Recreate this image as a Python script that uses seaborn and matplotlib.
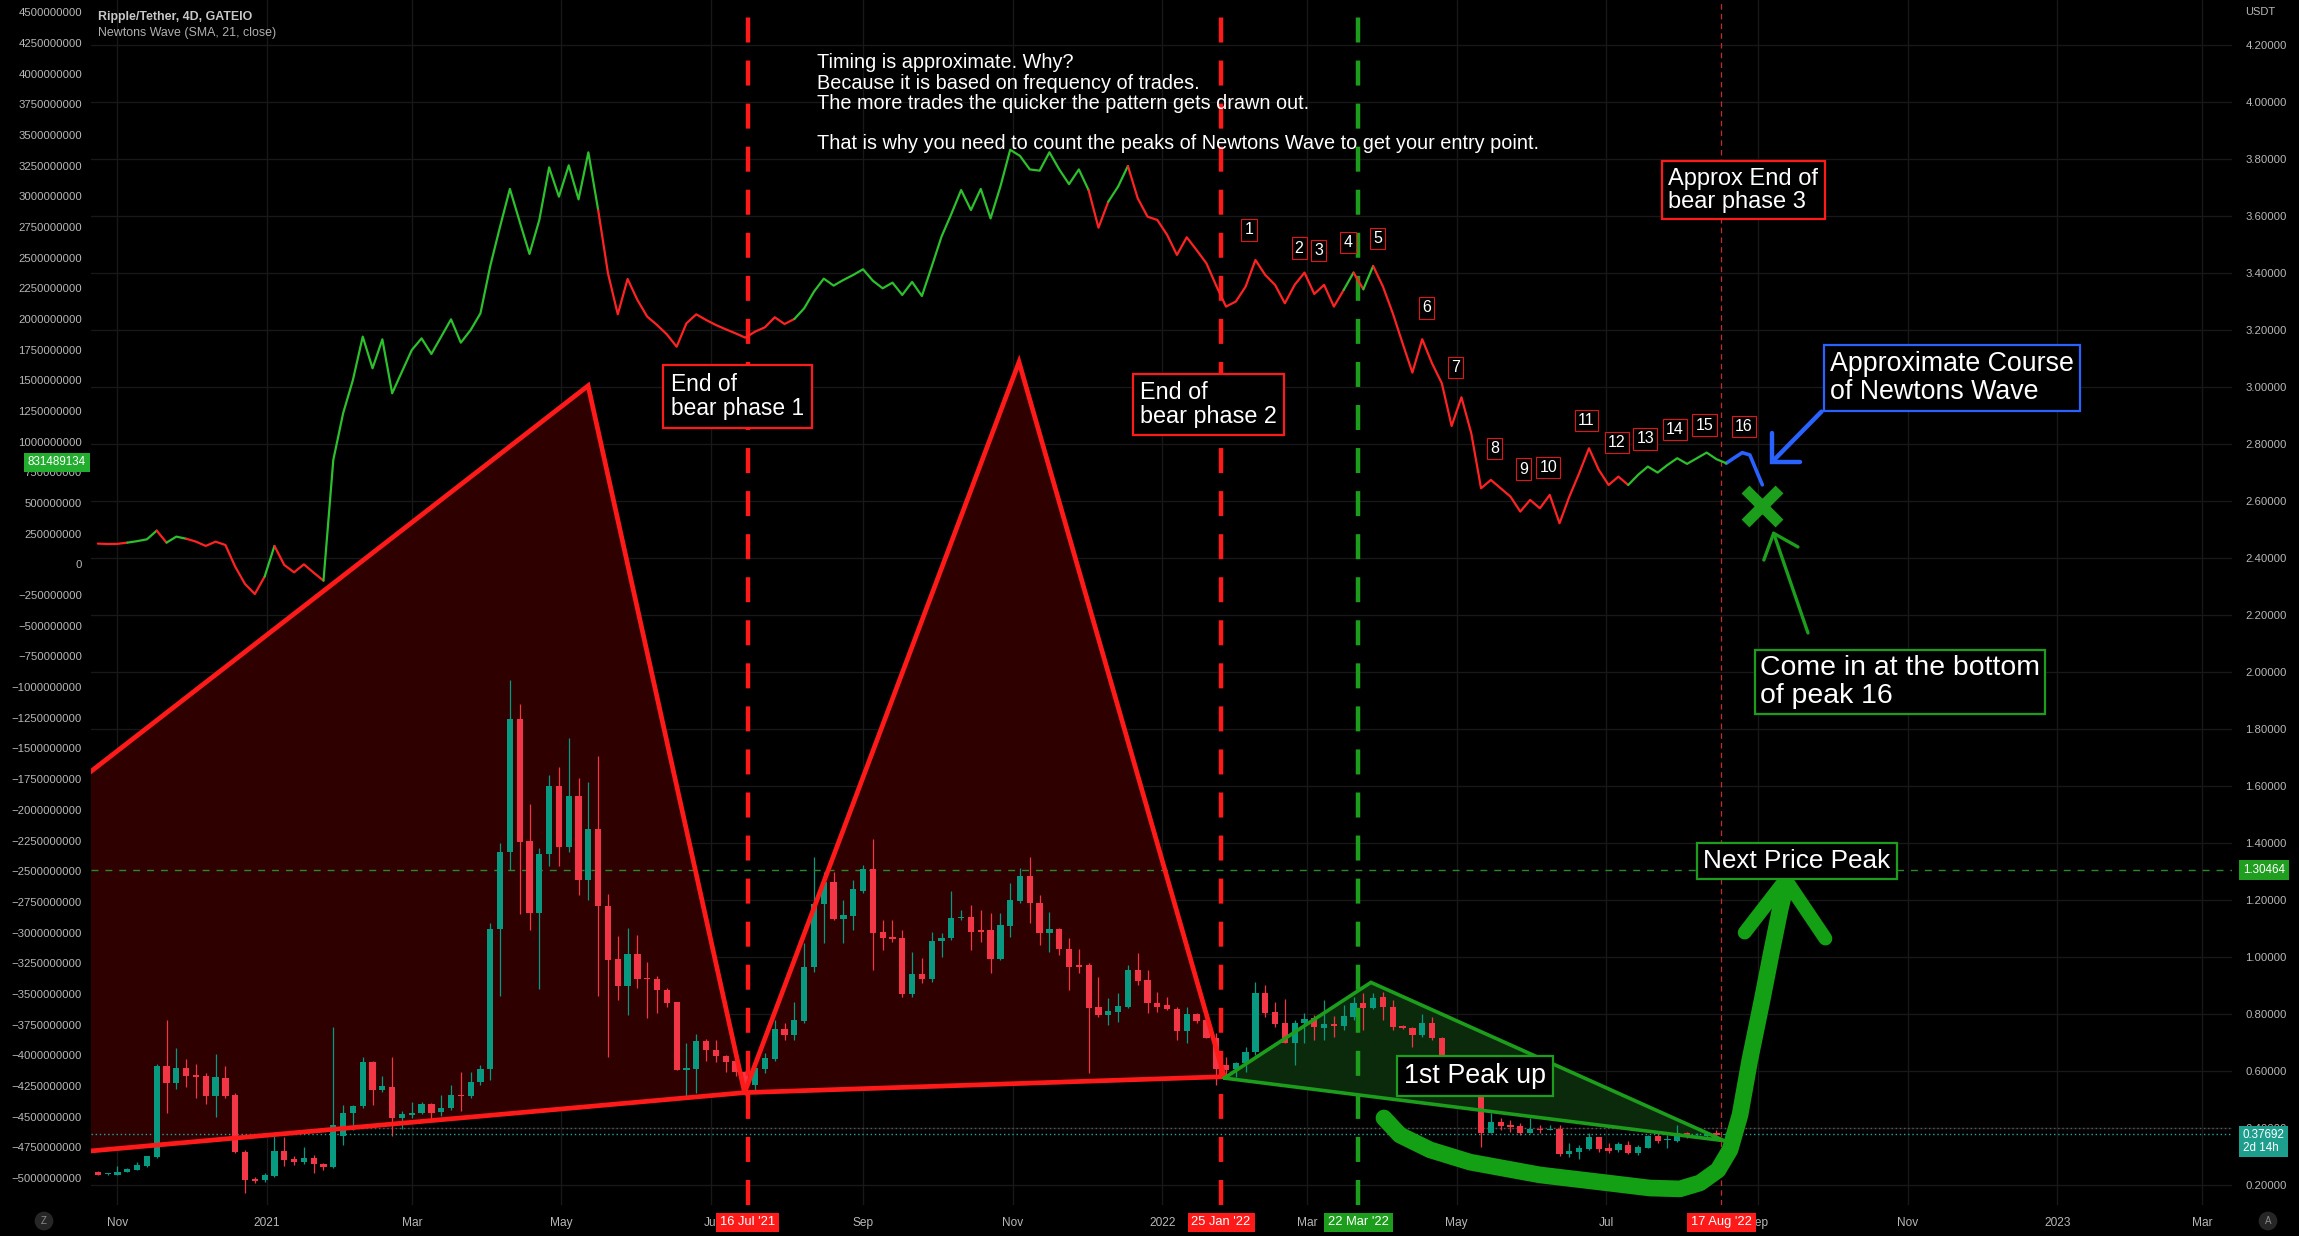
import numpy as np
import pandas as pd
import matplotlib
matplotlib.use("Agg")
import matplotlib.pyplot as plt
import matplotlib.dates as mdates
import matplotlib.transforms as mtransforms
from matplotlib.patches import Polygon
import seaborn as sns

# ------------------------------------------------------------------ data
first_bar = "2020-10-24"   # XRP/USDT 4D candles, GATEIO

opens = [0.246, 0.236, 0.234, 0.246, 0.252, 0.265, 0.296, 0.616, 0.557, 0.610,
         0.585, 0.581, 0.510, 0.575, 0.516, 0.315, 0.221, 0.215, 0.231, 0.318,
         0.290, 0.278, 0.294, 0.271, 0.261, 0.369, 0.451, 0.476, 0.629, 0.532,
         0.541, 0.434, 0.443, 0.453, 0.482, 0.456, 0.468, 0.516, 0.510, 0.562,
         0.607, 1.099, 1.369, 1.835, 1.406, 1.155, 1.362, 1.601, 1.387, 1.563,
         1.268, 1.450, 1.177, 0.992, 0.896, 1.011, 0.926, 0.923, 0.882, 0.842,
         0.604, 0.607, 0.704, 0.673, 0.650, 0.635, 0.597, 0.550, 0.605, 0.640,
         0.745, 0.725, 0.774, 0.965, 1.184, 1.264, 1.133, 1.143, 1.232, 1.307,
         1.087, 1.067, 1.065, 0.869, 0.939, 0.922, 1.055, 1.065, 1.135, 1.141,
         1.094, 1.094, 0.991, 1.108, 1.197, 1.284, 1.188, 1.085, 1.097, 1.027,
         0.971, 0.971, 0.822, 0.795, 0.807, 0.825, 0.953, 0.918, 0.836, 0.831,
         0.817, 0.740, 0.799, 0.778, 0.716, 0.620, 0.605, 0.626, 0.664, 0.872,
         0.805, 0.769, 0.698, 0.767, 0.784, 0.751, 0.764, 0.757, 0.790, 0.839,
         0.820, 0.858, 0.823, 0.757, 0.751, 0.725, 0.766, 0.716, 0.640, 0.600,
         0.610, 0.560, 0.382, 0.421, 0.409, 0.407, 0.382, 0.395, 0.392, 0.397,
         0.307, 0.316, 0.325, 0.366, 0.327, 0.321, 0.339, 0.312, 0.330, 0.372,
         0.356, 0.354, 0.380, 0.366, 0.372, 0.380, 0.374]
highs = [0.248, 0.242, 0.265, 0.258, 0.278, 0.302, 0.622, 0.779, 0.681, 0.641,
         0.625, 0.591, 0.660, 0.616, 0.522, 0.321, 0.228, 0.240, 0.372, 0.368,
         0.300, 0.331, 0.303, 0.275, 0.754, 0.478, 0.480, 0.648, 0.635, 0.582,
         0.648, 0.459, 0.491, 0.490, 0.488, 0.516, 0.550, 0.597, 0.597, 0.620,
         1.118, 1.400, 1.971, 1.889, 1.535, 1.381, 1.638, 1.666, 1.767, 1.629,
         1.613, 1.705, 1.221, 1.074, 1.101, 1.078, 0.980, 0.933, 0.892, 0.842,
         0.698, 0.729, 0.713, 0.708, 0.654, 0.640, 0.600, 0.620, 0.661, 0.778,
         0.766, 0.842, 1.047, 1.351, 1.299, 1.299, 1.199, 1.270, 1.322, 1.412,
         1.129, 1.129, 1.094, 1.018, 0.994, 1.088, 1.082, 1.232, 1.164, 1.182,
         1.164, 1.152, 1.152, 1.258, 1.310, 1.351, 1.217, 1.158, 1.100, 1.067,
         1.026, 0.977, 0.930, 0.854, 0.872, 0.971, 1.014, 0.953, 0.877, 0.860,
         0.825, 0.825, 0.804, 0.784, 0.731, 0.649, 0.632, 0.684, 0.913, 0.901,
         0.842, 0.850, 0.778, 0.801, 0.796, 0.848, 0.792, 0.831, 0.860, 0.872,
         0.872, 0.877, 0.848, 0.760, 0.755, 0.799, 0.790, 0.720, 0.650, 0.630,
         0.625, 0.570, 0.450, 0.433, 0.427, 0.415, 0.433, 0.409, 0.409, 0.409,
         0.345, 0.339, 0.380, 0.368, 0.345, 0.351, 0.354, 0.339, 0.374, 0.380,
         0.374, 0.409, 0.386, 0.380, 0.384, 0.392, 0.383]
lows = [0.232, 0.233, 0.232, 0.244, 0.250, 0.263, 0.294, 0.453, 0.537, 0.541,
        0.503, 0.484, 0.437, 0.503, 0.312, 0.171, 0.205, 0.210, 0.228, 0.265,
        0.268, 0.272, 0.240, 0.252, 0.258, 0.340, 0.390, 0.470, 0.478, 0.525,
        0.369, 0.397, 0.435, 0.448, 0.424, 0.441, 0.462, 0.459, 0.505, 0.550,
        0.566, 0.861, 1.303, 1.149, 1.093, 0.886, 1.318, 1.318, 1.369, 1.218,
        1.199, 0.861, 0.648, 0.848, 0.795, 0.892, 0.785, 0.804, 0.823, 0.604,
        0.512, 0.522, 0.635, 0.629, 0.597, 0.582, 0.515, 0.520, 0.591, 0.635,
        0.708, 0.708, 0.766, 0.948, 1.047, 1.129, 1.047, 1.094, 1.223, 0.953,
        1.024, 1.053, 0.860, 0.860, 0.907, 0.913, 1.000, 1.059, 1.129, 1.024,
        1.053, 0.942, 0.989, 1.071, 1.188, 1.117, 1.041, 1.018, 1.006, 0.883,
        0.942, 0.591, 0.790, 0.760, 0.772, 0.819, 0.901, 0.801, 0.807, 0.813,
        0.708, 0.696, 0.768, 0.714, 0.550, 0.579, 0.579, 0.597, 0.655, 0.790,
        0.755, 0.696, 0.620, 0.696, 0.708, 0.708, 0.719, 0.743, 0.778, 0.743,
        0.818, 0.778, 0.743, 0.748, 0.684, 0.720, 0.708, 0.630, 0.590, 0.585,
        0.550, 0.333, 0.380, 0.392, 0.386, 0.374, 0.380, 0.382, 0.390, 0.300,
        0.296, 0.289, 0.321, 0.316, 0.310, 0.316, 0.307, 0.304, 0.327, 0.347,
        0.327, 0.348, 0.362, 0.362, 0.368, 0.368, 0.370]
closes = [0.234, 0.238, 0.246, 0.255, 0.268, 0.299, 0.616, 0.557, 0.610, 0.582,
          0.579, 0.510, 0.579, 0.512, 0.315, 0.217, 0.212, 0.234, 0.318, 0.286,
          0.278, 0.294, 0.271, 0.261, 0.409, 0.451, 0.476, 0.629, 0.532, 0.545,
          0.434, 0.447, 0.453, 0.482, 0.453, 0.468, 0.516, 0.510, 0.562, 0.607,
          1.099, 1.369, 1.835, 1.404, 1.155, 1.362, 1.601, 1.387, 1.563, 1.268,
          1.450, 1.177, 0.989, 0.896, 1.011, 0.923, 0.921, 0.882, 0.838, 0.604,
          0.610, 0.704, 0.673, 0.650, 0.632, 0.595, 0.532, 0.608, 0.646, 0.745,
          0.725, 0.778, 0.965, 1.184, 1.264, 1.133, 1.147, 1.237, 1.307, 1.085,
          1.065, 1.064, 0.869, 0.939, 0.922, 1.055, 1.067, 1.137, 1.141, 1.088,
          1.088, 0.991, 1.111, 1.199, 1.284, 1.188, 1.085, 1.097, 1.027, 0.965,
          0.965, 0.819, 0.795, 0.811, 0.827, 0.953, 0.915, 0.836, 0.825, 0.817,
          0.740, 0.799, 0.774, 0.716, 0.605, 0.602, 0.628, 0.667, 0.872, 0.801,
          0.763, 0.698, 0.769, 0.780, 0.755, 0.764, 0.757, 0.792, 0.836, 0.820,
          0.854, 0.823, 0.755, 0.751, 0.725, 0.766, 0.716, 0.640, 0.600, 0.610,
          0.560, 0.382, 0.421, 0.407, 0.403, 0.380, 0.395, 0.392, 0.397, 0.307,
          0.318, 0.330, 0.366, 0.325, 0.319, 0.341, 0.312, 0.331, 0.372, 0.354,
          0.360, 0.380, 0.366, 0.372, 0.376, 0.374, 0.377]

# Newtons Wave (SMA 21, close), in millions, one value per candle
wave = [170, 167, 168, 178, 190, 205, 276, 178, 227, 210,
        186, 151, 186, 159, -18, -159, -241, -99, 151, -4,
        -64, 1, -67, -132, 852, 1232, 1504, 1857, 1599, 1835,
        1395, 1572, 1748, 1843, 1716, 1857, 1998, 1808, 1911, 2047,
        2433, 2754, 3061, 2794, 2531, 2808, 3237, 2998, 3253, 2976,
        3359, 2889, 2373, 2039, 2327, 2156, 2020, 1952, 1876, 1775,
        1966, 2039, 1993, 1952, 1917, 1884, 1849, 1898, 1933, 2015,
        1960, 2001, 2088, 2224, 2330, 2273, 2319, 2360, 2406, 2313,
        2251, 2297, 2197, 2303, 2188, 2428, 2672, 2857, 3052, 2889,
        3061, 2821, 3080, 3380, 3330, 3220, 3210, 3360, 3220, 3100,
        3220, 3050, 2745, 2957, 3080, 3248, 2985, 2835, 2808, 2686,
        2523, 2667, 2563, 2455, 2273, 2102, 2143, 2265, 2482, 2360,
        2279, 2129, 2279, 2379, 2205, 2279, 2102, 2238, 2379, 2243,
        2433, 2265, 2048, 1803, 1564, 1836, 1640, 1477, 1129, 1363,
        1070, 621, 689, 621, 553, 431, 526, 458, 567, 336,
        553, 743, 947, 771, 648, 716, 648, 730, 798, 749,
        811, 866, 820, 866, 912, 858, 825]
# colour of each wave segment (candle i -> i+1): 1 green, 0 red
wave_bull = ("0001110110" "0000000100" "0001111111" "1111111111" "1111111111"
             "1000000000" "0000000000" "0111111111" "1111111111" "1111111111"
             "1001100000" "0000000000" "0000000101" "0000000000" "0000000000"
             "0000001111" "111111")

price_ticks = np.round(np.arange(0.2, 4.21, 0.2), 2)
wave_ticks = np.arange(-5000, 4501, 250)
month_ticks = ["2020-11-01", "2021-01-01", "2021-03-01", "2021-05-01", "2021-07-01",
               "2021-09-01", "2021-11-01", "2022-01-01", "2022-03-01", "2022-05-01",
               "2022-07-01", "2022-09-01", "2022-11-01", "2023-01-01", "2023-03-01"]
month_labels = ["Nov", "2021", "Mar", "May", "Jul", "Sep", "Nov", "2022",
                "Mar", "May", "Jul", "Sep", "Nov", "2023", "Mar"]

event_dates = ["2021-07-16", "2022-01-25", "2022-03-22", "2022-08-17"]
event_labels = ["16 Jul '21", "25 Jan '22", "22 Mar '22", "17 Aug '22"]

last_price = 0.37692
last_wave = 831489134
target_price = 1.30464

# ------------------------------------------------------------ colours
UP, DOWN = "#089981", "#f23645"
WAVE_UP, WAVE_DN = "#2cc02c", "#ff2222"
RED, GREEN, BLUE = "#ff1a1a", "#1c9e1c", "#2962ff"
TXT = "#b8b8b8"

sns.set_theme(style="dark", rc={
    "figure.facecolor": "black", "axes.facecolor": "black",
    "axes.edgecolor": "black", "text.color": "white",
    "xtick.color": TXT, "ytick.color": TXT, "lines.scale_dashes": False,
})
plt.rcParams["font.family"] = ["Liberation Sans", "DejaVu Sans"]

fig = plt.figure(figsize=(22.99, 12.36), dpi=100)
ax = fig.add_axes([91 / 2299, 31 / 1236, 2141 / 2299, 1205 / 1236])
axw = ax.twinx()
ax.yaxis.tick_right()
axw.yaxis.tick_left()
axw.patch.set_visible(False)

t0 = mdates.date2num(pd.Timestamp(first_bar).to_pydatetime())


def at(day):
    return t0 + np.asarray(day, dtype=float)


def day_of(date):
    return mdates.date2num(pd.Timestamp(date).to_pydatetime())


dates = pd.date_range(first_bar, periods=len(closes), freq="4D")
x = mdates.date2num(dates.to_pydatetime())
o, h, l, c = (np.array(v) for v in (opens, highs, lows, closes))
col = np.where(c >= o, UP, DOWN)

# ------------------------------------------------------------ patterns
phase1 = [(-20, 1.536), (199.9, 3.005), (263.7, 0.523), (-20, 0.305)]
phase2 = [(263.7, 0.523), (375.6, 3.088), (459.3, 0.579)]
peak_up = [(459.3, 0.574), (519.1, 0.910), (663.2, 0.354)]


def shape(pts, edge, face, lw):
    xs = at([p[0] for p in pts])
    ys = np.array([p[1] for p in pts])
    ax.add_patch(Polygon(np.column_stack([xs, ys]), closed=True, fc=face,
                         ec="none", zorder=2))
    ax.plot(np.r_[xs, xs[0]], np.r_[ys, ys[0]], color=edge, lw=lw, zorder=5,
            solid_joinstyle="miter")


shape(phase1, RED, "#2e0000", 3.4)
shape(phase2, RED, "#2e0000", 3.4)
shape(peak_up, GREEN, "#0b2a0b", 2.6)

# ------------------------------------------------------------ candles
ax.vlines(x, l, h, colors=col, lw=0.9, zorder=3)
ax.bar(x, np.maximum(np.abs(c - o), 0.004), bottom=np.minimum(o, c), width=2.55,
       color=col, linewidth=0, zorder=4)

# price lines
ax.axhline(target_price, color="#2a8a2a", lw=1, dashes=(5, 5), zorder=3.5)
ax.axhline(0.4, color="#5a5a5a", lw=1, dashes=(1, 2), zorder=1)
ax.axhline(last_price, color="#26a69a", lw=1, dashes=(1, 2), zorder=3.5)

# vertical event lines
for d, colr, lw in zip(event_dates, [RED, RED, GREEN, "#c42b2b"], [3.2, 3.2, 3.2, 0.9]):
    dash = (18, 13) if lw > 2 else (4, 3)
    ax.axvline(day_of(d), color=colr, lw=lw, dashes=dash, zorder=6)

# ------------------------------------------------------------ Newtons Wave
wave_v = np.array(wave, dtype=float)
flags = [int(ch) for ch in wave_bull]
start = 0
for i in range(1, len(flags) + 1):
    if i == len(flags) or flags[i] != flags[start]:
        sns.lineplot(x=x[start:i + 1], y=wave_v[start:i + 1], ax=axw,
                     color=WAVE_UP if flags[start] else WAVE_DN, linewidth=1.6,
                     estimator=None, sort=False, legend=False)
        start = i

# ------------------------------------------------------------ hand drawings
blue_path = [(664, 2.733), (666.9, 2.750), (670.5, 2.770), (673.6, 2.762),
             (676.0, 2.712), (678.7, 2.657)]
ax.plot(at([p[0] for p in blue_path]), [p[1] for p in blue_path], color=BLUE,
        lw=2.6, solid_capstyle="round", solid_joinstyle="round", zorder=7)
ax.plot(at([702.8, 682.7]), [2.914, 2.738], color=BLUE, lw=3.2, zorder=7,
        solid_capstyle="round")
ax.plot(at([693.9, 682.7, 682.7]), [2.738, 2.738, 2.839], color=BLUE, lw=3.2,
        zorder=7, solid_capstyle="round", solid_joinstyle="miter")

ax.plot(at(678.5), 2.583, marker="x", ms=25, mew=8, color=GREEN, zorder=7)
ax.plot(at([697.3, 683.3]), [2.137, 2.487], color=GREEN, lw=2.4, zorder=7)
ax.plot(at([679.3, 683.3, 693.2]), [2.393, 2.487, 2.439], color=GREEN, lw=2.4,
        zorder=7)

curve = [(524.4, 0.434), (530.9, 0.374), (543.2, 0.322), (559.5, 0.279),
         (588.0, 0.234), (612.5, 0.209), (632.9, 0.188), (645.1, 0.185),
         (653.3, 0.206), (660.6, 0.251), (665.5, 0.322), (669.6, 0.445),
         (673.6, 0.638), (678.6, 0.848), (682.6, 1.024), (685.9, 1.164),
         (688.3, 1.252)]
ax.plot(at([p[0] for p in curve]), [p[1] for p in curve], color="#14a014", lw=12,
        solid_capstyle="round", solid_joinstyle="round", zorder=7)
ax.plot(at([671.5, 688.2, 704.4]), [1.085, 1.271, 1.064], color="#14a014", lw=10,
        solid_capstyle="round", solid_joinstyle="round", zorder=7)

# ------------------------------------------------------------ text notes
ax.text(at(293.1), 3.997,
        "Timing is approximate. Why?\n"
        "Because it is based on frequency of trades.\n"
        "The more trades the quicker the pattern gets drawn out.\n\n"
        "That is why you need to count the peaks of Newtons Wave to get your entry point.",
        ha="left", va="center", fontsize=14.3, color="white", linespacing=1.08,
        zorder=8)

boxes = [
    ("End of\nbear phase 1", 260.8, 2.967, RED, 16.4, 0.33),
    ("End of\nbear phase 2", 453.0, 2.939, RED, 16.8, 0.3),
    ("Approx End of\nbear phase 3", 671.0, 3.691, RED, 17.0, 0.26),
    ("Approximate Course\nof Newtons Wave", 755.9, 3.031, BLUE, 19.3, 0.22),
    ("Come in at the bottom\nof peak 16", 734.8, 1.965, GREEN, 20.4, 0.18),
    ("Next Price Peak", 692.7, 1.337, GREEN, 18.8, 0.24),
    ("1st Peak up", 561.7, 0.581, GREEN, 19.4, 0.26),
]
for txt, d, p, ec, fs, pad in boxes:
    ax.text(at(d), p, txt, ha="center", va="center", multialignment="left",
            fontsize=fs, color="white", linespacing=1.1, zorder=9,
            bbox=dict(boxstyle=f"square,pad={pad}", fc="black", ec=ec, lw=1.6))

peak_days = [469.4, 489.8, 497.8, 509.8, 521.8, 541.9, 553.5, 569.5, 581.4, 591.4,
             607.0, 619.4, 631.0, 643.1, 655.1, 671.1]
peak_prices = [3.552, 3.488, 3.479, 3.509, 3.521, 3.278, 3.070, 2.785, 2.712, 2.717,
               2.882, 2.806, 2.818, 2.852, 2.867, 2.861]
for n, (d, p) in enumerate(zip(peak_days, peak_prices), start=1):
    ax.text(at(d), p, str(n), ha="center", va="center", fontsize=11.5,
            color="white", zorder=9,
            bbox=dict(boxstyle="square,pad=0.2", fc="black", ec="#e01515", lw=0.8))

# ------------------------------------------------------------ axes styling
ax.set_xlim(at(-2.8), at(870.2))
ax.set_ylim(0.1284, 4.3594)
axw.set_ylim(-5221, 4601)

ax.set_yticks(price_ticks)
ax.set_yticklabels([f"{v:.5f}" for v in price_ticks])
axw.set_yticks(wave_ticks)
axw.set_yticklabels([("\u2212" if v < 0 else "") + str(abs(int(v)) * 1000000)
                     for v in wave_ticks])
ax.set_xticks([day_of(m) for m in month_ticks])
ax.set_xticklabels(month_labels)
ax.tick_params(axis="x", length=0, pad=8.5, labelsize=8.6, labelcolor=TXT)
ax.tick_params(axis="y", length=0, pad=9.5, labelsize=8.2, labelcolor=TXT)
axw.tick_params(axis="y", length=0, pad=6.5, labelsize=8.2, labelcolor=TXT)
ax.grid(True, color="#181818", lw=1)
axw.grid(False)
for a in (ax, axw):
    a.set_xlabel("")
    a.set_ylabel("")
    for s in a.spines.values():
        s.set_visible(False)

# axis price tags
yr = mtransforms.blended_transform_factory(ax.transAxes, ax.transData)
ax.text(1.0051, target_price, f"{target_price:.5f}", transform=yr, ha="left",
        va="center", fontsize=8.4, color="white", clip_on=False, zorder=10,
        bbox=dict(boxstyle="square,pad=0.35", fc="#1f9e1f", ec="none"))
ax.text(1.0051, 0.351, f"{last_price:.5f}\n2d 14h", transform=yr, ha="left",
        va="center", fontsize=8.4, color="white", linespacing=1.05, clip_on=False,
        zorder=10, bbox=dict(boxstyle="square,pad=0.3", fc="#1e9e8c", ec="none"))
yl = mtransforms.blended_transform_factory(axw.transAxes, axw.transData)
axw.text(-0.0023, last_wave / 1e6, str(last_wave), transform=yl, ha="right",
         va="center", fontsize=8.4, color="white", clip_on=False, zorder=10,
         bbox=dict(boxstyle="square,pad=0.3", fc="#22ad2f", ec="none"))

xb = mtransforms.blended_transform_factory(ax.transData, ax.transAxes)
for d, lab, fc in zip(event_dates, event_labels, [RED, RED, "#1c9e1c", RED]):
    ax.text(day_of(d), -0.0145, lab, transform=xb, ha="center", va="center",
            fontsize=9.3, color="white", clip_on=False, zorder=10,
            bbox=dict(boxstyle="square,pad=0.3", fc=fc, ec="none"))

fig.text(98 / 2299, 1 - 17 / 1236, "Ripple/Tether, 4D, GATEIO", fontsize=8.9,
         fontweight="bold", color="#c8c8c8", va="center")
fig.text(98 / 2299, 1 - 33 / 1236, "Newtons Wave (SMA, 21, close)", fontsize=8.9,
         color="#b0b0b0", va="center")
fig.text(2245 / 2299, 1 - 12 / 1236, "USDT", fontsize=8, color=TXT, va="center")
for px_, letter in ((44, "Z"), (2268, "A")):
    fig.text(px_ / 2299, 1 - 1221 / 1236, letter, ha="center", va="center",
             fontsize=7, color="#8a8a8a",
             bbox=dict(boxstyle="circle,pad=0.45", fc="#262626", ec="none"))

fig.savefig("out.png", dpi=100, facecolor="black")
